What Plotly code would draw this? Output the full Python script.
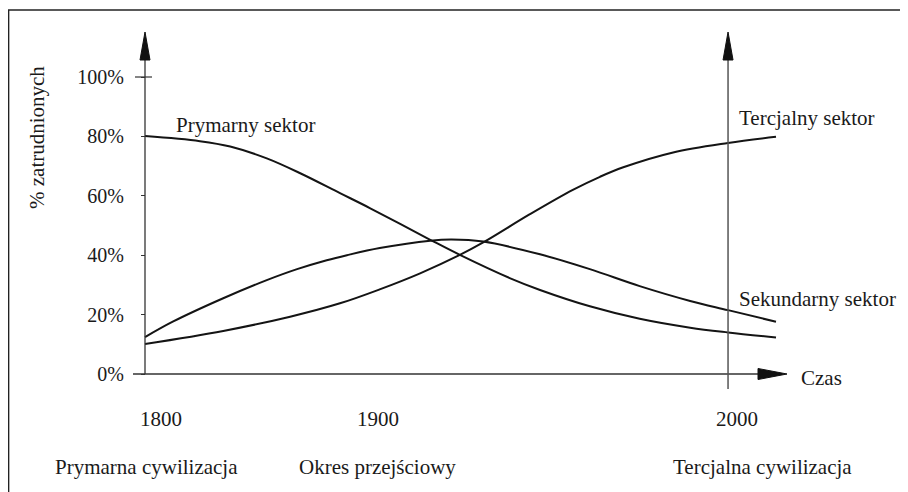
import plotly.graph_objects as go

# ---------------- data (time in arbitrary units 0..100, share of employment in %) ----------------
primary_t = [0, 8.7, 13.5, 19.3, 24.6, 30.9, 35.7, 45.2, 49.9, 57.8, 62.6, 70.5, 78.4, 86.4, 92.4, 100]
primary_v = [80.1, 78.4, 76.6, 72.6, 67.6, 60.9, 55.8, 45.2, 40.1, 32.3, 28.3, 22.8, 18.6, 15.6, 14.0, 12.3]

secondary_t = [0, 4.4, 12.4, 19.3, 24.1, 28.8, 32.0, 37.2, 45.2, 48.6, 53.6, 62.6, 70.5, 78.4, 86.4, 92.4, 100]
secondary_v = [12.4, 17.6, 25.5, 31.6, 35.3, 38.3, 40.0, 42.4, 44.9, 45.3, 44.6, 40.3, 35.3, 29.6, 24.6, 21.5, 17.6]

tertiary_t = [0, 12.4, 23.0, 30.9, 37.2, 43.6, 49.9, 53.6, 61.0, 67.8, 72.1, 75.8, 83.7, 92.4, 100]
tertiary_v = [10.1, 14.5, 19.3, 23.8, 28.5, 33.9, 40.1, 44.3, 53.8, 62.0, 66.4, 69.6, 74.6, 77.8, 79.9]

y_ticks = [0, 20, 40, 60, 80, 100]
y_tick_labels = ["0%", "20%", "40%", "60%", "80%", "100%"]

year_labels = ["1800", "1900", "2000"]
year_pos = [2.5, 36.9, 93.8]
era_labels = ["Prymarna cywilizacja", "Okres przejściowy", "Tercjalna cywilizacja"]
era_pos = [0.3, 36.9, 97.8]

series_names = ["Prymarny sektor", "Sekundarny sektor", "Tercjalny sektor"]
series_label_pos = [(16.0, 83.8), (106.5, 25.3), (104.9, 86.2)]

y_title = "% zatrudnionych"
x_title = "Czas"
marker_t = 92.4  # the "2000" vertical marker

# ---------------- geometry ----------------
W, H = 908, 492
PAGE_OFF = 8                 # the html page body margin shifts the figure by 8 px
T0_PX, Y0_PX = 145 - PAGE_OFF, 374 - PAGE_OFF   # figure pixel position of the origin
PX_T, PX_PCT = 6.31, 2.97    # pixels per unit


def dx(px):
    return px / PX_T


def dy(px):
    return px / PX_PCT


def fx(px_page):  # page x pixel -> data x
    return (px_page - PAGE_OFF - T0_PX) / PX_T


def fy(py_page):  # page y pixel -> data y
    return (Y0_PX - (py_page - PAGE_OFF)) / PX_PCT


x_range = [-T0_PX / PX_T, (W - T0_PX) / PX_T]
y_range = [-(H - Y0_PX) / PX_PCT, Y0_PX / PX_PCT]

FONT = "Times New Roman"
TXT = "#1a1a1a"
CURVE = "#141414"
AXC = "#333333"


def tfont(size=21):
    return dict(family=FONT, size=size)


fig = go.Figure()
for tt, vv, nm in zip([primary_t, secondary_t, tertiary_t],
                      [primary_v, secondary_v, tertiary_v], series_names):
    fig.add_trace(go.Scatter(x=tt, y=vv, mode="lines", name=nm,
                             line=dict(color=CURVE, width=2, shape="spline", smoothing=1.0),
                             hoverinfo="skip", showlegend=False))

shapes = []
# frame (top and left edges) at page px x=8, y=10
shapes.append(dict(type="line", xref="paper", yref="paper", x0=0, x1=1, y0=1 - 2 / H, y1=1 - 2 / H,
                   line=dict(color="#222", width=1.5)))
shapes.append(dict(type="line", xref="paper", yref="paper", x0=0.6 / W, x1=0.6 / W, y0=0, y1=1 - 2 / H,
                   line=dict(color="#222", width=1.5)))

axis_top = fy(32)
arrow_len_y = dy(28)
arrow_hw_x = dx(5)
x_end = fx(787)
arrow_len_x = dx(29)
arrow_hw_y = dy(5.5)

# y axis
shapes.append(dict(type="line", x0=0, x1=0, y0=0, y1=axis_top - arrow_len_y, line=dict(color=AXC, width=1.3)))
shapes.append(dict(type="path",
                   path=f"M0,{axis_top} L{-arrow_hw_x},{axis_top - arrow_len_y} L{arrow_hw_x},{axis_top - arrow_len_y} Z",
                   fillcolor="#111", line=dict(color="#111", width=1)))
# 100% crossing tick
shapes.append(dict(type="line", x0=-dx(10), x1=dx(7), y0=100, y1=100, line=dict(color=AXC, width=1.2)))
# x axis
shapes.append(dict(type="line", x0=-dx(12), x1=x_end - arrow_len_x, y0=0, y1=0, line=dict(color=AXC, width=1.3)))
shapes.append(dict(type="path",
                   path=f"M{x_end},0 L{x_end - arrow_len_x},{arrow_hw_y} L{x_end - arrow_len_x},{-arrow_hw_y} Z",
                   fillcolor="#111", line=dict(color="#111", width=1)))
# vertical marker line with arrow
shapes.append(dict(type="line", x0=marker_t, x1=marker_t, y0=-dy(15), y1=axis_top - arrow_len_y,
                   line=dict(color="#555", width=1.5)))
shapes.append(dict(type="path",
                   path=f"M{marker_t},{axis_top} L{marker_t - arrow_hw_x},{axis_top - arrow_len_y} L{marker_t + arrow_hw_x},{axis_top - arrow_len_y} Z",
                   fillcolor="#111", line=dict(color="#111", width=1)))

ann = []
for nm, (px_, py_) in zip(series_names, series_label_pos):
    ann.append(dict(x=px_, y=py_, text=nm, showarrow=False, xanchor="center", yanchor="middle", font=tfont()))
ann.append(dict(x=fx(821), y=fy(378), text=x_title, showarrow=False, xanchor="center", yanchor="middle",
                font=tfont()))
for lab, p in zip(year_labels, year_pos):
    ann.append(dict(x=p, y=fy(419), text=lab, showarrow=False, xanchor="center", yanchor="middle", font=tfont()))
for lab, p in zip(era_labels, era_pos):
    ann.append(dict(x=p, y=fy(467), text=lab, showarrow=False, xanchor="center", yanchor="middle", font=tfont()))
ann.append(dict(x=fx(37), y=fy(138), text=y_title, textangle=-90, showarrow=False,
                xanchor="center", yanchor="middle", font=tfont()))

fig.update_layout(
    width=W, height=H,
    margin=dict(l=0, r=0, t=0, b=0),
    paper_bgcolor="white", plot_bgcolor="white",
    font=dict(family=FONT, color=TXT),
    shapes=shapes, annotations=ann,
    xaxis=dict(range=x_range, visible=False, fixedrange=True),
    yaxis=dict(range=y_range, anchor="free", position=T0_PX / W, showline=False, showgrid=False,
               zeroline=False, tickvals=y_ticks, ticktext=y_tick_labels, ticks="outside", ticklen=4,
               tickcolor=AXC, tickwidth=1, ticklabelstandoff=13,
               tickfont=tfont(20), fixedrange=True),
    showlegend=False,
)

fig.write_html("out.html")
